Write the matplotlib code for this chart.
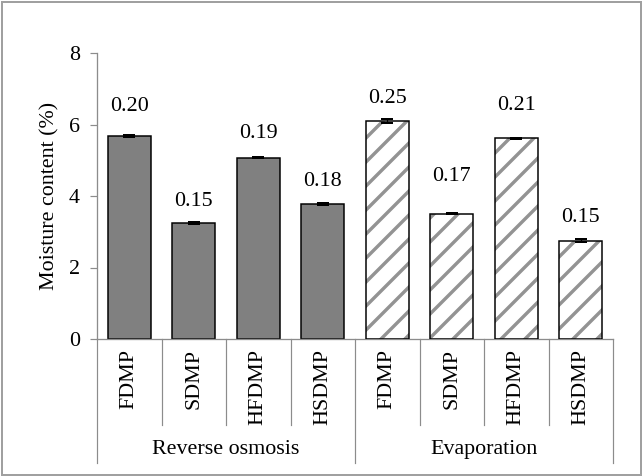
import numpy as np
import matplotlib.pyplot as plt
import matplotlib.transforms as mtransforms
from matplotlib.patches import Rectangle

# moisture content of the milk powders, by concentration method
methods = ['Reverse osmosis', 'Evaporation']
powders = ['FDMP', 'SDMP', 'HFDMP', 'HSDMP']
ro_values = [5.68, 3.24, 5.07, 3.78]
evap_values = [6.09, 3.51, 5.61, 2.75]
ro_err = [0.02, 0.03, 0.01, 0.02]
evap_err = [0.05, 0.02, 0.01, 0.04]
ro_labels = ['0.20', '0.15', '0.19', '0.18']
evap_labels = ['0.25', '0.17', '0.21', '0.15']

plt.rcParams['font.family'] = ['Liberation Serif', 'DejaVu Serif']
plt.rcParams['hatch.linewidth'] = 3.4

axis_grey = '#8c8c8c'
fs = 22

fig = plt.figure(figsize=(643 / 72, 476 / 72), dpi=72)
fig.patches.append(Rectangle((0.003, 0.003), 0.994, 0.992, transform=fig.transFigure,
                             fill=False, edgecolor='#a0a0a0', linewidth=2))
ax = fig.add_axes([97 / 643, 1 - 339 / 476, (613 - 97) / 643, (339 - 53) / 476])

n = len(powders)
x_ro = np.arange(n)
x_ev = np.arange(n) + n
w = 0.67

# solid bars for reverse osmosis
ax.bar(x_ro, ro_values, w, color='#808080', edgecolor='black', linewidth=1.5, zorder=2)
# hatched bars for evaporation: grey stripes first, black outline on top
ax.bar(x_ev, evap_values, w, color='white', edgecolor='#939393', hatch='/', linewidth=0, zorder=2)
ax.bar(x_ev, evap_values, w, fill=False, edgecolor='black', linewidth=1.5, zorder=3)

ax.errorbar(x_ro, ro_values, yerr=ro_err, fmt='none', ecolor='black', elinewidth=1.2,
            capsize=6, capthick=2, zorder=4)
ax.errorbar(x_ev, evap_values, yerr=evap_err, fmt='none', ecolor='black', elinewidth=1.2,
            capsize=6, capthick=2, zorder=4)

# value labels above each bar
offsets = [29, 22, 24, 22, 23, 37, 33, 23]
xs = list(x_ro) + list(x_ev)
tops = ro_values + evap_values
for xi, top, lab, off in zip(xs, tops, ro_labels + evap_labels, offsets):
    ax.annotate(lab, (xi, top), xytext=(0, off), textcoords='offset points',
                ha='center', va='center', fontsize=fs)

ax.set_xlim(-0.5, 2 * n - 0.5)
ax.set_ylim(0, 8)
ax.set_yticks([0, 2, 4, 6, 8])
ax.set_ylabel('Moisture content (%)', fontsize=fs, labelpad=9)

ax.set_xticks(xs)
ax.set_xticklabels(powders + powders, rotation=90, fontsize=fs)
ax.tick_params(axis='x', length=0, pad=10)
ax.tick_params(axis='y', length=7, width=1.2, color=axis_grey, labelsize=fs, pad=10)

for side in ['top', 'right']:
    ax.spines[side].set_visible(False)
for side in ['left', 'bottom']:
    ax.spines[side].set_color(axis_grey)
    ax.spines[side].set_linewidth(1.3)

# category dividers below the axis; group borders run further down
trans = mtransforms.blended_transform_factory(ax.transData, ax.transAxes)
for b in np.arange(-0.5, 2 * n, 1.0):
    depth = -0.434 if b in (-0.5, n - 0.5, 2 * n - 0.5) else -0.301
    ax.plot([b, b], [0, depth], color=axis_grey, linewidth=1.2, transform=trans, clip_on=False)

for i, m in enumerate(methods):
    ax.text(i * n + (n - 1) / 2, -0.388, m, transform=trans, ha='center', va='center',
            fontsize=fs)

fig.savefig('out.png', dpi=72)
